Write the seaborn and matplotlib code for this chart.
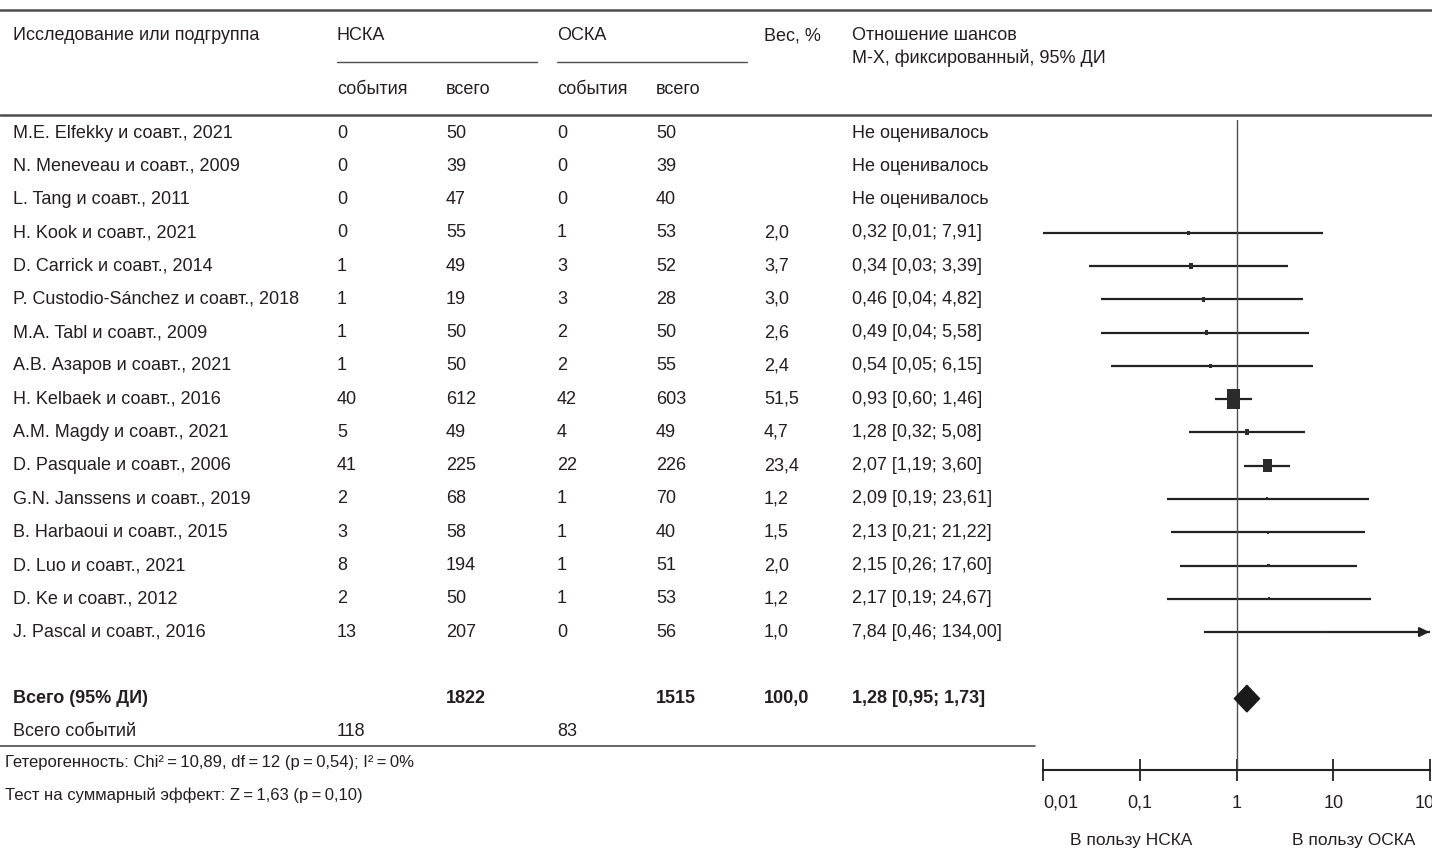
"""
Forest plot: НСКА vs ОСКА, отношение шансов (М-Х, фиксированный)
"""

import numpy as np
import pandas as pd
import seaborn as sns
import matplotlib.pyplot as plt

# data
STUDIES = ['M.E. Elfekky и соавт., 2021', 'N. Meneveau и соавт., 2009',
           'L. Tang и соавт., 2011', 'H. Kook и соавт., 2021',
           'D. Carrick и соавт., 2014', 'P. Custodio-Sánchez и соавт., 2018',
           'M.A. Tabl и соавт., 2009', 'А.В. Азаров и соавт., 2021',
           'H. Kelbaek и соавт., 2016', 'A.M. Magdy и соавт., 2021',
           'D. Pasquale и соавт., 2006', 'G.N. Janssens и соавт., 2019',
           'B. Harbaoui и соавт., 2015', 'D. Luo и соавт., 2021',
           'D. Ke и соавт., 2012', 'J. Pascal и соавт., 2016']
EV_NSKA = [0, 0, 0, 0, 1, 1, 1, 1, 40, 5, 41, 2, 3, 8, 2, 13]
N_NSKA = [50, 39, 47, 55, 49, 19, 50, 50, 612, 49, 225, 68, 58, 194, 50, 207]
EV_OSKA = [0, 0, 0, 1, 3, 3, 2, 2, 42, 4, 22, 1, 1, 1, 1, 0]
N_OSKA = [50, 39, 40, 53, 52, 28, 50, 55, 603, 49, 226, 70, 40, 51, 53, 56]
WEIGHT = [np.nan, np.nan, np.nan, 2.0, 3.7, 3.0, 2.6, 2.4, 51.5, 4.7, 23.4, 1.2, 1.5, 2.0, 1.2, 1.0]
OR = [np.nan, np.nan, np.nan, 0.32, 0.34, 0.46, 0.49, 0.54, 0.93, 1.28, 2.07, 2.09, 2.13, 2.15, 2.17, 7.84]
CI_LO = [np.nan, np.nan, np.nan, 0.01, 0.03, 0.04, 0.04, 0.05, 0.60, 0.32, 1.19, 0.19, 0.21, 0.26, 0.19, 0.46]
CI_HI = [np.nan, np.nan, np.nan, 7.91, 3.39, 4.82, 5.58, 6.15, 1.46, 5.08, 3.60, 23.61, 21.22, 17.60, 24.67, 134.00]
TOTAL_N = [1822, 1515]
TOTAL_EV = [118, 83]
TOTAL_OR, TOTAL_LO, TOTAL_HI = 1.28, 0.95, 1.73
TICKS = [0.01, 0.1, 1, 10, 100]
TICK_LABELS = ['0,01', '0,1', '1', '10', '100']

# layout (pixels)
W_PX, H_PX, DPI = 1432, 851, 100
ROW0_PX, ROW_PX = 133, 33.27
COL_X = [13, 337, 446, 557, 656, 764, 852]
TXT = '#231f20'
LINE = '#4d4d4d'
FS = 13
THIN = '\u2009'

sns.set_theme(style='white')
plt.rcParams['font.family'] = ['Liberation Sans', 'DejaVu Sans']


def row(px):
    return (px - ROW0_PX) / ROW_PX


def fmt(v, d=2):
    return f'{v:.{d}f}'.replace('.', ',')


YLIM = (row(H_PX), row(0))

fig = plt.figure(figsize=(W_PX / DPI, H_PX / DPI), dpi=DPI)

# table axes (x in pixels, y in rows)
ax_t = fig.add_axes([0, 0, 1, 1])
ax_t.set_xlim(0, W_PX)
ax_t.set_ylim(*YLIM)
ax_t.axis('off')

# forest axes
x0, x1 = 1043, 1430
ax = fig.add_axes([x0 / W_PX, 0, (x1 - x0) / W_PX, 1])
ax.set_facecolor('none')
ax.set_xscale('log')
ax.set_xlim(TICKS[0], TICKS[-1])
ax.set_ylim(*YLIM)

# header lines
ax_t.plot([0, W_PX], [row(10)] * 2, color=LINE, lw=1.8)
ax_t.plot([0, W_PX], [row(115)] * 2, color=LINE, lw=1.8)
ax_t.plot([COL_X[1], 537], [row(62)] * 2, color=LINE, lw=1)
ax_t.plot([COL_X[3], 747], [row(62)] * 2, color=LINE, lw=1)
ax_t.plot([0, 1035], [row(746)] * 2, color=LINE, lw=1.2)

# header text
hy, sy = row(36), row(90)
for x, s in zip([COL_X[0], COL_X[1], COL_X[3], COL_X[5], COL_X[6]],
                ['Исследование или подгруппа', 'НСКА', 'ОСКА', 'Вес, %', 'Отношение шансов']):
    ax_t.text(x, hy, s, fontsize=FS, color=TXT, va='center')
ax_t.text(COL_X[6], row(58), 'М-Х, фиксированный, 95% ДИ', fontsize=FS, color=TXT, va='center')
for x, s in zip(COL_X[1:5], ['события', 'всего', 'события', 'всего']):
    ax_t.text(x, sy, s, fontsize=FS, color=TXT, va='center')

# study rows
for i, name in enumerate(STUDIES):
    cells = [name, str(EV_NSKA[i]), str(N_NSKA[i]), str(EV_OSKA[i]), str(N_OSKA[i])]
    if np.isnan(OR[i]):
        cells += ['', 'Не оценивалось']
    else:
        cells += [fmt(WEIGHT[i], 1), f'{fmt(OR[i])} [{fmt(CI_LO[i])}; {fmt(CI_HI[i])}]']
    for x, s in zip(COL_X, cells):
        ax_t.text(x, i, s, fontsize=FS, color=TXT, va='center')

# totals
ty = len(STUDIES) + 1
for x, s in zip([COL_X[0], COL_X[2], COL_X[4], COL_X[5], COL_X[6]],
                ['Всего (95% ДИ)', str(TOTAL_N[0]), str(TOTAL_N[1]), '100,0',
                 f'{fmt(TOTAL_OR)} [{fmt(TOTAL_LO)}; {fmt(TOTAL_HI)}]']):
    ax_t.text(x, ty, s, fontsize=FS, color=TXT, va='center', fontweight='bold')
for x, s in zip([COL_X[0], COL_X[1], COL_X[3]],
                ['Всего событий', str(TOTAL_EV[0]), str(TOTAL_EV[1])]):
    ax_t.text(x, ty + 1, s, fontsize=FS, color=TXT, va='center')

eq = f'{THIN}={THIN}'
ax_t.text(5, row(762), f'Гетерогенность: Chi²{eq}10,89, df{eq}12 (p{eq}0,54); I²{eq}0%',
          fontsize=12, color=TXT, va='center')
ax_t.text(5, row(795), f'Тест на суммарный эффект: Z{eq}1,63 (p{eq}0,10)',
          fontsize=12, color=TXT, va='center')
ax_t.text(1131, row(841), 'В пользу НСКА', fontsize=12.5, color=TXT, va='center', ha='center')
ax_t.text(1354, row(841), 'В пользу ОСКА', fontsize=12.5, color=TXT, va='center', ha='center')

# confidence intervals
df = pd.DataFrame({'y': np.arange(len(STUDIES)), 'or': OR, 'lo': CI_LO,
                   'hi': CI_HI, 'w': WEIGHT}).dropna()
for _, r in df.iterrows():
    hi = min(r.hi, TICKS[-1])
    ax.plot([r.lo, hi], [r.y, r.y], color='#222222', lw=1.6, solid_capstyle='butt')
    if r.hi > TICKS[-1]:
        ax.annotate('', xy=(hi * 1.05, r.y), xytext=(hi * 0.8, r.y), annotation_clip=False,
                    arrowprops=dict(arrowstyle='-|>', color='#222222', lw=1.6,
                                    mutation_scale=14))

# weighted boxes (area proportional to weight)
box = [(-1, -1.5), (1, -1.5), (1, 1.5), (-1, 1.5)]
smax = (20 / (DPI / 72)) ** 2
sns.scatterplot(data=df, x='or', y='y', size='w',
                sizes=(smax * df.w.min() / df.w.max(), smax),
                marker=box, color='#2b2b2b', edgecolor='none',
                legend=False, ax=ax, zorder=3)

# pooled diamond
ax.fill([TOTAL_LO, TOTAL_OR, TOTAL_HI, TOTAL_OR],
        [ty, ty - 0.4, ty, ty + 0.4], color='#1a1a1a', zorder=3)

# line of no effect
ax.plot([1, 1], [row(120), row(770)], color=LINE, lw=1)

# axis
for s in ['left', 'right', 'top']:
    ax.spines[s].set_visible(False)
ax.spines['bottom'].set_position(('data', row(770)))
ax.spines['bottom'].set_color('#222222')
ax.spines['bottom'].set_linewidth(1.5)
ax.set_xticks(TICKS)
ax.set_xticklabels(TICK_LABELS)
ax.minorticks_off()
ax.tick_params(axis='x', direction='inout', length=16, width=1.3, color='#222222',
               labelsize=FS, labelcolor=TXT, pad=10, bottom=True)
ax.set_yticks([])
ax.set_xlabel('')
ax.set_ylabel('')
labels = ax.get_xticklabels()
labels[0].set_horizontalalignment('left')
for lab in labels:
    lab.set_clip_on(False)

fig.savefig('out.png', dpi=DPI)
